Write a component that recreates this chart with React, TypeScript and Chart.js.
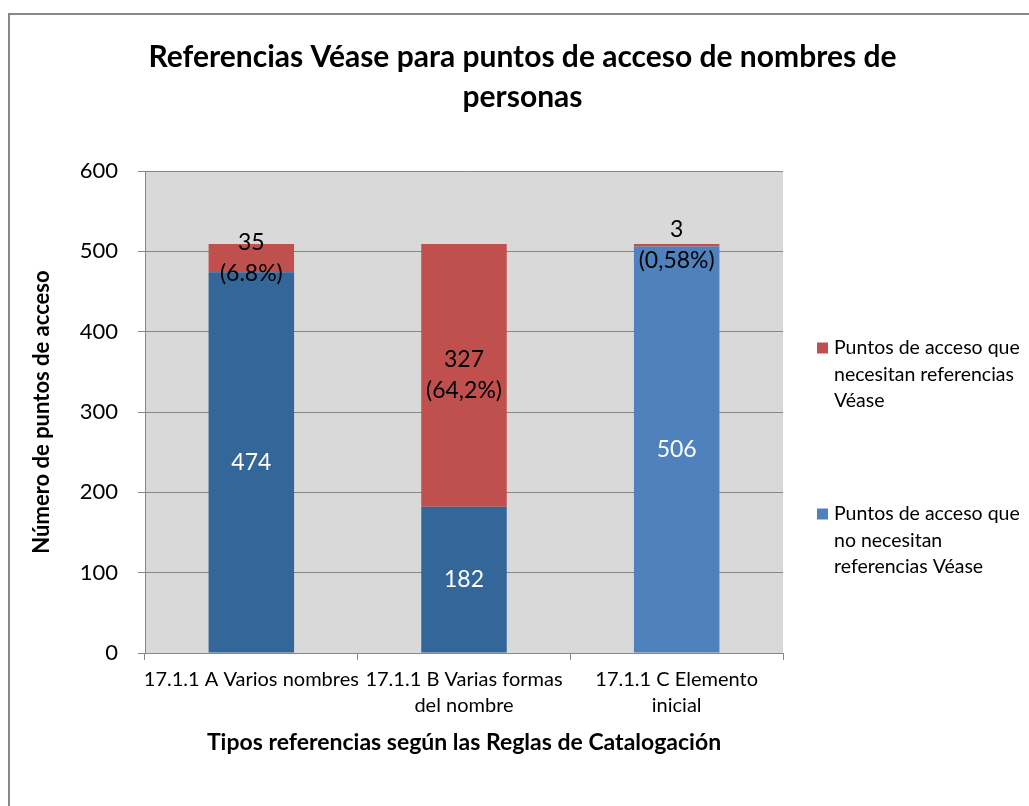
import React, { useEffect, useRef } from 'react';
import { Chart, registerables } from 'chart.js';

Chart.register(...registerables);

const titleLines = ['Referencias Véase para puntos de acceso de nombres de', 'personas'];
const categories = [
  ['17.1.1 A Varios nombres'],
  ['17.1.1 B Varias formas', 'del nombre'],
  ['17.1.1 C Elemento', 'inicial'],
];
const sinReferencias = [474, 182, 506];
const conReferencias = [35, 327, 3];
const conReferenciasLabels = [
  ['35', '(6.8%)'],
  ['327', '(64,2%)'],
  ['3', '(0,58%)'],
];
const sinReferenciasLegend = ['Puntos de acceso que', 'no necesitan', 'referencias Véase'];
const conReferenciasLegend = ['Puntos de acceso que', 'necesitan referencias', 'Véase'];
const yAxisTitle = 'Número de puntos de acceso';
const xAxisTitle = 'Tipos referencias según las Reglas de Catalogación';
const yMin = 0;
const yMax = 600;
const yStep = 100;

const FONT = 'Lato, "Open Sans", sans-serif';
const GRID = '#878787';
const BLUE_DARK = '#336699';
const BLUE = '#4f81bd';
const RED = '#c0504d';

const plotBg = {
  id: 'plotBg',
  beforeDraw(chart: any) {
    const { ctx, chartArea } = chart;
    ctx.save();
    ctx.fillStyle = '#d9d9d9';
    ctx.fillRect(chartArea.left, chartArea.top, chartArea.right - chartArea.left, chartArea.bottom - chartArea.top);
    ctx.restore();
  },
};

const chartTitle = {
  id: 'chartTitle',
  afterDraw(chart: any) {
    const { ctx, width } = chart;
    ctx.save();
    ctx.font = `bold 30px ${FONT}`;
    ctx.fillStyle = '#000';
    ctx.textAlign = 'center';
    ctx.textBaseline = 'middle';
    titleLines.forEach((t, k) => ctx.fillText(t, width / 2 + 3, 42 + k * 40));
    ctx.restore();
  },
};

const barLabels = {
  id: 'barLabels',
  afterDatasetsDraw(chart: any) {
    const { ctx } = chart;
    ctx.save();
    ctx.font = `23px ${FONT}`;
    ctx.textAlign = 'center';
    ctx.textBaseline = 'middle';
    const lh = 31;
    chart.data.datasets.forEach((ds: any, di: number) => {
      const meta = chart.getDatasetMeta(di);
      meta.data.forEach((bar: any, i: number) => {
        const lines: string[] = ds.customLabels ? ds.customLabels[i] : [String(ds.data[i])];
        const cy = (bar.y + bar.base) / 2;
        const cx = bar.x;
        ctx.fillStyle = ds.labelColor;
        const start = cy - ((lines.length - 1) * lh) / 2;
        lines.forEach((t, k) => ctx.fillText(t, cx, start + k * lh));
      });
    });
    ctx.restore();
  },
};

const sideLegend = {
  id: 'sideLegend',
  afterDraw(chart: any) {
    const { ctx, chartArea } = chart;
    const items = [
      { color: RED, lines: conReferenciasLegend, top: 177 },
      { color: BLUE, lines: sinReferenciasLegend, top: 343 },
    ];
    ctx.save();
    ctx.font = `19.5px ${FONT}`;
    ctx.textAlign = 'left';
    ctx.textBaseline = 'middle';
    const x = chartArea.right + 34;
    items.forEach((it) => {
      const y0 = chartArea.top + it.top;
      ctx.fillStyle = it.color;
      ctx.fillRect(x, y0 - 5.5, 11, 11);
      ctx.fillStyle = '#000';
      it.lines.forEach((t, k) => ctx.fillText(t, x + 17, y0 + k * 26.5));
    });
    ctx.restore();
  },
};

export default function App() {
  const ref = useRef<HTMLCanvasElement>(null);
  useEffect(() => {
    if (!ref.current) return;
    Chart.defaults.font.family = FONT;
    Chart.defaults.color = '#000';
    const chart = new Chart(ref.current, {
      type: 'bar',
      data: {
        labels: categories,
        datasets: [
          {
            label: sinReferenciasLegend.join(' '),
            data: sinReferencias,
            backgroundColor: [BLUE_DARK, BLUE_DARK, BLUE],
            borderWidth: 0,
            barPercentage: 0.402,
            categoryPercentage: 1,
            labelColor: '#fff',
          } as any,
          {
            label: conReferenciasLegend.join(' '),
            data: conReferencias,
            backgroundColor: RED,
            borderWidth: 0,
            barPercentage: 0.402,
            categoryPercentage: 1,
            labelColor: '#000',
            customLabels: conReferenciasLabels,
          } as any,
        ],
      },
      options: {
        responsive: false,
        animation: false,
        devicePixelRatio: 1,
        layout: { padding: { left: 0, right: 246, top: 156, bottom: 0 } },
        plugins: {
          legend: { display: false },
          tooltip: { enabled: false },
          title: { display: false },
        },
        scales: {
          x: {
            stacked: true,
            grid: { display: true, offset: true, drawOnChartArea: false, drawTicks: true, tickLength: 7, color: GRID, tickColor: GRID },
            border: { display: true, color: GRID, width: 1 },
            ticks: { color: '#000', font: { family: FONT, size: 20, lineHeight: 26 / 20 }, padding: 7, maxRotation: 0, autoSkip: false },
            title: {
              display: true,
              text: xAxisTitle,
              color: '#000',
              font: { family: FONT, size: 23, weight: 'bold', lineHeight: 1.2 },
              padding: { top: 0, bottom: 49.2 },
            },
            afterFit(scale: any) { scale.height = 153; },
          },
          y: {
            stacked: true,
            min: yMin,
            max: yMax,
            grid: { color: GRID, tickColor: GRID, tickLength: 7, drawTicks: true },
            border: { display: true, color: GRID, width: 1 },
            ticks: { stepSize: yStep, color: '#000', font: { family: FONT, size: 22 }, padding: 20 },
            title: {
              display: true,
              text: yAxisTitle,
              color: '#000',
              font: { family: FONT, size: 22, weight: 'bold', lineHeight: 1.2 },
              padding: { top: 19, bottom: 0 },
            },
            afterFit(scale: any) { scale.width = 135; },
          },
        },
      } as any,
      plugins: [plotBg, barLabels, sideLegend, chartTitle],
    });
    return () => chart.destroy();
  }, []);

  return (
    <div
      style={{
        position: 'absolute',
        left: 8,
        top: 13,
        width: 1021,
        height: 793,
        borderLeft: `2px solid ${GRID}`,
        borderTop: `2px solid ${GRID}`,
        boxSizing: 'border-box',
        background: '#fff',
        overflow: 'hidden',
      }}
    >
      <canvas ref={ref} width={1019} height={791} style={{ display: 'block' }} />
    </div>
  );
}
